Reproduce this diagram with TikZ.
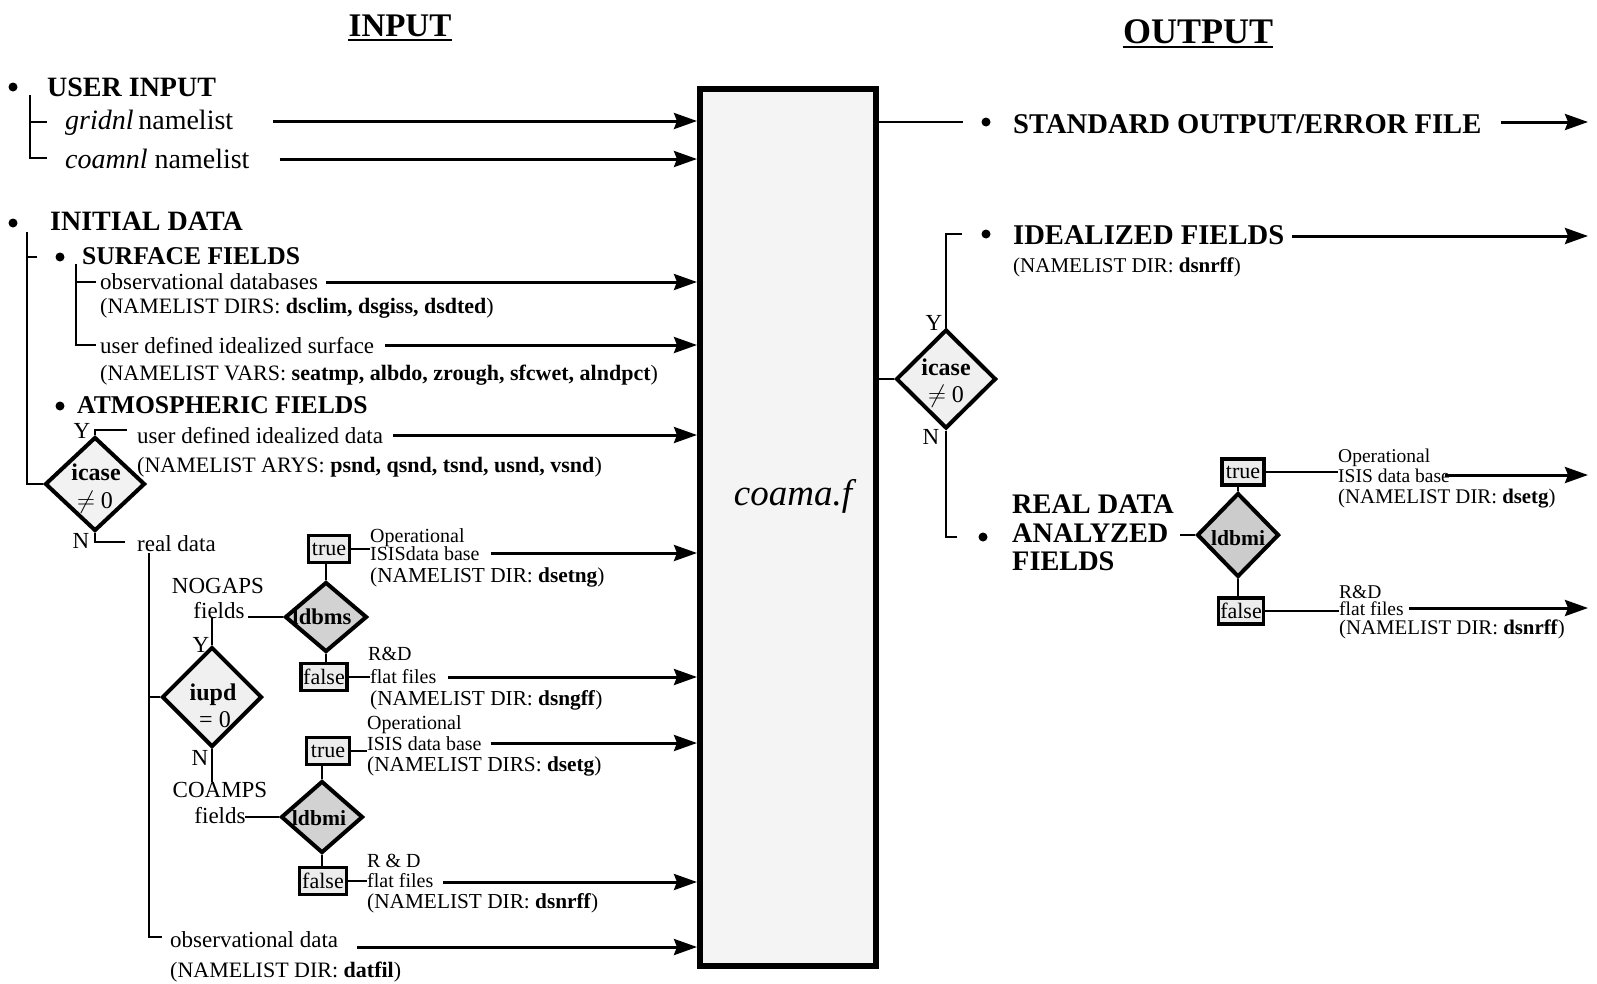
\documentclass[tikz,border=0pt]{standalone}
\usepackage{fontspec}
\setmainfont{Liberation Serif}
\usetikzlibrary{shapes.geometric,arrows.meta}
\tikzset{
  fs/.style={font=\fontsize{#1}{#1}\selectfont, inner sep=0pt, anchor=base west},
  fsb/.style={font=\fontsize{#1}{#1}\selectfont\bfseries, inner sep=0pt, anchor=base west},
  lab/.style={font=\fontsize{23}{23}\selectfont, inner sep=0pt, anchor=center},
  bul/.style={circle, fill=black, inner sep=0pt, minimum size=9pt},
  tree/.style={line width=2.8pt},
  arr/.style={line width=3pt, -{Stealth[length=23pt,width=16pt,inset=3pt]}},
  diam/.style={diamond, draw, line width=4pt, inner sep=0pt},
  tf/.style={draw, line width=3.2pt, fill=gray!15, inner xsep=1.5pt, inner ysep=0pt, minimum height=27pt, font=\fontsize{22}{22}\selectfont},
}
\newcommand\toBox[3]{\draw[arr] (#1.base east) ++(#2,#3) coordinate (tmp) -- (tmp -| box.west);}
\newcommand\toEnd[3]{\draw[arr] (#1.base east) ++(#2,#3) coordinate (tmp) -- (tmp -| rend);}
\begin{document}
\begin{tikzpicture}[x=1pt,y=-1pt]
\useasboundingbox (0,0) rectangle (1597,983);
\coordinate (rend) at (1588,0);

% central box
\node[draw, line width=6pt, fill=gray!9, minimum width=176pt, minimum height=877pt, outer sep=3pt] (box) at (788,527.5) {};
\node[font=\fontsize{37}{37}\selectfont\itshape, inner sep=0pt, anchor=base] (coama) at (793,505) {coama.f};

% titles
\node[fsb=33, anchor=base] (tin) at (400,36) {INPUT};
\draw[line width=2.5pt] ([yshift=-4pt]tin.base west) -- ([yshift=-4pt]tin.base east);
\node[fsb=36, anchor=base] (tout) at (1198,43) {OUTPUT};
\draw[line width=2.5pt] ([yshift=-4pt]tout.base west) -- ([yshift=-4pt]tout.base east);

% USER INPUT
\node[bul] (b1) at (13,87) {};
\node[fsb=28] (ui) at (47,96) {USER INPUT};
\node[fs=28] (gridnl) at (65,129) {\textit{gridnl}\,namelist};
\node[fs=28] (coamnl) at (65,168) {\textit{coamnl} namelist};
\coordinate (uiT) at (30,95);
\draw[tree] (uiT) |- ([xshift=-18pt,yshift=10pt]coamnl.base west);
\draw[tree] ([xshift=-18pt,yshift=7pt]gridnl.base west) -| (uiT);
\toBox{gridnl}{40}{-8}
\toBox{coamnl}{30}{-9}

% INITIAL DATA
\node[bul] (b2) at (13,223) {};
\node[fsb=28] (init) at (50,230) {INITIAL DATA};
\coordinate (idT) at (27,232);
\node[bul] (b3) at (60,257) {};
\node[fsb=25.6] (surf) at (82,264) {SURFACE FIELDS};
\draw[tree] ([xshift=-23pt]b3.center) -- (idT |- b3.center);
\node[fs=23] (obsdb) at (100,289) {observational databases};
\node[fs=22] (nl1) at (100,313) {(NAMELIST DIRS: \textbf{dsclim, dsgiss, dsdted})};
\node[fs=23] (uds) at (100,353) {user defined idealized surface};
\node[fs=22] (nl2) at (100,380) {(NAMELIST VARS: \textbf{seatmp, albdo, zrough, sfcwet, alndpct})};
\coordinate (sfT) at (76,264);
\draw[tree] (sfT) |- ([xshift=-4pt,yshift=8pt]uds.base west);
\draw[tree] ([xshift=-4pt,yshift=7pt]obsdb.base west) -| (sfT);
\toBox{obsdb}{8}{-7}
\toBox{uds}{11}{-8}

% ATMOSPHERIC FIELDS
\node[bul] (b4) at (60,406) {};
\node[fsb=25.6] (atm) at (77,413) {ATMOSPHERIC FIELDS};
\node[diam, fill=gray!10, minimum width=100pt, minimum height=94pt] (icL) at (95,484) {};
\node[fsb=24, anchor=base] (icLa) at (96,480) {icase};
\node[fs=24, anchor=base] (icLb) at (95,508) {$\neq$ 0};
\draw[tree] (idT) |- (icL.west);
\node[fs=23] (udd) at (137,443) {user defined idealized data};
\node[fs=22] (nl3) at (137,472) {(NAMELIST ARYS: \textbf{psnd, qsnd, tsnd, usnd, vsnd})};
\draw[tree] (icL.north) |- ([xshift=-10pt,yshift=13pt]udd.base west);
\node[lab] (yL) at (82,431) {Y};
\toBox{udd}{10}{-8}
\node[fs=23] (real) at (137,551) {real data};
\draw[tree] (icL.south) |- ([xshift=-12pt,yshift=9pt]real.base west);
\node[lab] (nL) at (81,541) {N};

% real data branch
\coordinate (rdT) at (149,553);
\node[fs=23] (obsdat) at (170,947) {observational data};
\node[fs=22] (nl8) at (170,977) {(NAMELIST DIR: \textbf{datfil})};
\draw[tree] (rdT) |- ([xshift=-8pt,yshift=10pt]obsdat.base west);
\toBox{obsdat}{19}{0}
\node[diam, fill=gray!12, minimum width=100pt, minimum height=100pt] (iupd) at (212,697) {};
\node[fsb=24, anchor=base] (iupda) at (213,700) {iupd};
\node[fs=24, anchor=base] (iupdb) at (215,727) {= 0};
\draw[tree] (iupd.west) -- (iupd.west -| rdT);
\node[fs=23, anchor=base] (nog) at (218,593) {NOGAPS};
\node[fs=23, anchor=base] (fld1) at (219,618) {fields};
\draw[tree] (iupd.north) -- (iupd.north |- fld1.base);
\node[lab] (yI) at (201,645) {Y};
\node[fs=23, anchor=base] (coa) at (220,797) {COAMPS};
\node[fs=23, anchor=base] (fld2) at (220,823) {fields};
\draw[tree] (iupd.south) -- (iupd.south |- coa.north);
\node[lab] (nI) at (200,758) {N};

% NOGAPS ldbms
\node[diam, fill=gray!35, minimum width=82pt, minimum height=70pt] (ldbms) at (326,617) {};
\node[fsb=22.6, anchor=base] (ldbmsa) at (322,624) {ldbms};
\draw[tree] (ldbms.west) -- ++(-35,0);
\node[tf, minimum width=41pt] (tr1) at (329,549) {true};
\node[tf, minimum width=46pt] (fa1) at (324,677) {false};
\draw[tree] (ldbms.north) -- (ldbms.north |- tr1.south);
\draw[tree] (ldbms.south) -- (ldbms.south |- fa1.north);
\node[fs=20] (op1) at (370,542) {Operational};
\node[fs=20] (isis1) at (370,560) {ISISdata base};
\node[fs=21.3] (nl4) at (370,582) {(NAMELIST DIR: \textbf{dsetng})};
\draw[tree] (tr1.east) -- (tr1.east -| isis1.west);
\toBox{isis1}{11}{-7}
\node[fs=20] (rd1) at (368,660) {R\&D};
\node[fs=20] (ff1) at (370,683) {flat files};
\node[fs=21.3] (nl5) at (370,705) {(NAMELIST DIR: \textbf{dsngff})};
\draw[tree] (fa1.east) -- (fa1.east -| ff1.west);
\toBox{ff1}{12}{-6}

% COAMPS ldbmi
\node[diam, fill=gray!35, minimum width=82pt, minimum height=72pt] (ldbmiL) at (322,817) {};
\node[fsb=21.6, anchor=base] (ldbmiLa) at (319,825) {ldbmi};
\draw[tree] (ldbmiL.west) -- ++(-34,0);
\node[tf, minimum width=43pt] (tr2) at (328,751) {true};
\node[tf, minimum width=47pt] (fa2) at (323,881) {false};
\draw[tree] (ldbmiL.north) -- (ldbmiL.north |- tr2.south);
\draw[tree] (ldbmiL.south) -- (ldbmiL.south |- fa2.north);
\node[fs=20] (op2) at (367,729) {Operational};
\node[fs=20] (isis2) at (367,750) {ISIS data base};
\node[fs=21.3] (nl6) at (367,771) {(NAMELIST DIRS: \textbf{dsetg})};
\draw[tree] (tr2.east) -- (tr2.east -| isis2.west);
\toBox{isis2}{9}{-7}
\node[fs=20] (rd2) at (367,867) {R \& D};
\node[fs=20] (ff2) at (367,887) {flat files};
\node[fs=21.3] (nl7) at (367,908) {(NAMELIST DIR: \textbf{dsnrff})};
\draw[tree] (fa2.east) -- (fa2.east -| ff2.west);
\toBox{ff2}{10}{-5}

% OUTPUT side
\node[bul] (b5) at (986,122) {};
\node[fsb=28.6] (std) at (1013,133) {STANDARD OUTPUT/ERROR FILE};
\draw[tree] (b5.center -| box.east) -- ([xshift=-23pt]b5.center);
\toEnd{std}{19}{-11}
\node[bul] (b6) at (986,234) {};
\node[fsb=28.6] (ideal) at (1013,244) {IDEALIZED FIELDS};
\node[fs=21] (nl9) at (1013,272) {(NAMELIST DIR: \textbf{dsnrff})};
\toEnd{ideal}{8}{-8}
\node[diam, fill=gray!12, minimum width=100pt, minimum height=99pt] (icR) at (946,379) {};
\node[fsb=24, anchor=base] (icRa) at (946,375) {icase};
\node[fs=24, anchor=base] (icRb) at (946,402) {$\neq$ 0};
\draw[tree] (icR.west) -- (icR.west -| box.east);
\draw[tree] (icR.north) |- ([xshift=-24pt]b6.center);
\node[lab] (yR) at (934,323) {Y};
\node[bul] (b7) at (983,537) {};
\draw[tree] (icR.south) |- ([xshift=-26pt]b7.center);
\node[lab] (nR) at (931,437) {N};
\node[fsb=28.3] (rdA) at (1012,513) {REAL DATA};
\node[fsb=28.3] (rdB) at (1012,542) {ANALYZED};
\node[fsb=28.3] (rdC) at (1012,570) {FIELDS};
\node[diam, fill=gray!40, minimum width=82pt, minimum height=84pt] (ldbmiR) at (1238,535) {};
\node[fsb=21.6, anchor=base] (ldbmiRa) at (1238,545) {ldbmi};
\draw[tree] (ldbmiR.west) -- ++(-15,0);
\node[tf, minimum width=42pt, minimum height=26pt] (trR) at (1243,472) {true};
\node[tf, minimum width=44pt, minimum height=26pt] (faR) at (1241,611) {false};
\draw[tree] (ldbmiR.north) -- (ldbmiR.north |- trR.south);
\draw[tree] (ldbmiR.south) -- (ldbmiR.south |- faR.north);
\node[fs=19.5] (opR) at (1338,462) {Operational};
\node[fs=19.5] (isisR) at (1338,482) {ISIS data base};
\node[fs=20.8] (nlR1) at (1338,503) {(NAMELIST DIR: \textbf{dsetg})};
\draw[tree] (trR.east) -- (trR.east -| isisR.west);
\toEnd{isisR}{-5}{-7}
\node[fs=19.5] (rdR) at (1339,598) {R\&D};
\node[fs=19.5] (ffR) at (1339,615) {flat files};
\node[fs=20.8] (nlR2) at (1339,634) {(NAMELIST DIR: \textbf{dsnrff})};
\draw[tree] (faR.east) -- (faR.east -| ffR.west);
\toEnd{ffR}{5}{-7}
\end{tikzpicture}
\end{document}
